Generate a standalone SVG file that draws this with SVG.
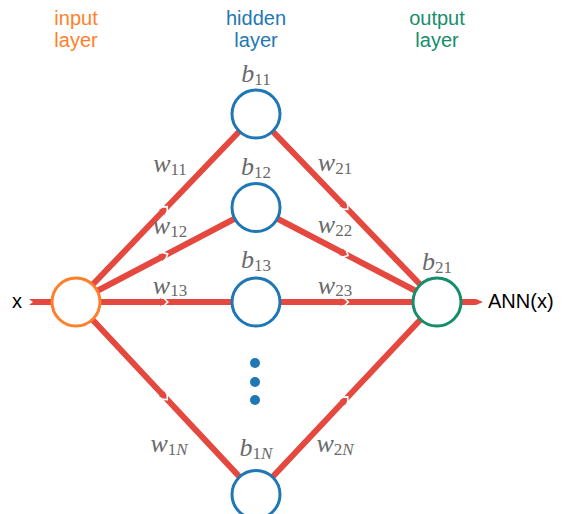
<svg xmlns="http://www.w3.org/2000/svg" width="566" height="514" viewBox="0 0 566 514">
<style>
.lay{font-family:"Liberation Sans",Arial,sans-serif;font-size:20px;text-anchor:middle}
.m{font-family:"Liberation Serif","DejaVu Serif",serif;font-size:26px;fill:#6a6a6a;text-anchor:middle}
.i{font-style:italic}
.s{font-size:17px}
.edge{fill:none;stroke:#e5483f;stroke-width:6;marker-mid:url(#mid)}
.node{fill:#fff;stroke-width:3}
.io{font-family:"Liberation Sans",Arial,sans-serif;font-size:20px;fill:#000}
</style>
<defs>
<marker id="mid" markerWidth="14" markerHeight="14" viewBox="-7 -7 14 14" refX="0" refY="0" orient="auto" markerUnits="userSpaceOnUse" overflow="visible">
<polygon points="-6,-4 0.3,0 -6,4" fill="#e5483f"/>
<polyline points="-4,-5.5 1.8,0 -4,5.5" fill="none" stroke="#fff" stroke-width="1.6"/>
</marker>
</defs>
<g id="layer-labels">
<text class="lay" x="76" y="25" fill="#ff7f2a">input</text>
<text class="lay" x="76" y="47" fill="#ff7f2a">layer</text>
<text class="lay" x="256" y="25" fill="#1f77b4">hidden</text>
<text class="lay" x="256" y="47" fill="#1f77b4">layer</text>
<text class="lay" x="437" y="25" fill="#168d6b">output</text>
<text class="lay" x="437" y="47" fill="#168d6b">layer</text>
</g>
<g id="connectors">
<polygon points="29,299 60,299 60,305 29,305 33,302" fill="#e5483f"/>
<polygon points="440,299 476,299 483,302 476,305 440,305" fill="#e5483f"/>
<path class="edge" d="M76,302 L166,208 L256,114"/>
<path class="edge" d="M76,302 L166,254.75 L256,207.5"/>
<path class="edge" d="M76,302 L166,302 L256,302"/>
<path class="edge" d="M76,302 L166,398.25 L256,494.5"/>
<path class="edge" d="M256,114 L346.5,208 L437,302"/>
<path class="edge" d="M256,207.5 L346.5,254.75 L437,302"/>
<path class="edge" d="M256,302 L346.5,302 L437,302"/>
<path class="edge" d="M256,494.5 L346.5,398.25 L437,302"/>
</g>
<g id="weights">
<text class="m" x="170" y="172"><tspan class="i">w</tspan><tspan class="s" dy="3">11</tspan></text>
<text class="m" x="170" y="234"><tspan class="i">w</tspan><tspan class="s" dy="3">12</tspan></text>
<text class="m" x="170" y="294"><tspan class="i">w</tspan><tspan class="s" dy="2">13</tspan></text>
<text class="m" x="169" y="452"><tspan class="i">w</tspan><tspan class="s" dy="3">1</tspan><tspan class="s i">N</tspan></text>
<text class="m" x="335" y="171"><tspan class="i">w</tspan><tspan class="s" dy="3">21</tspan></text>
<text class="m" x="335" y="233"><tspan class="i">w</tspan><tspan class="s" dy="3">22</tspan></text>
<text class="m" x="335" y="294"><tspan class="i">w</tspan><tspan class="s" dy="2">23</tspan></text>
<text class="m" x="335" y="452"><tspan class="i">w</tspan><tspan class="s" dy="3">2</tspan><tspan class="s i">N</tspan></text>
</g>
<g id="input">
<circle class="node" cx="76" cy="302" r="24" stroke="#ff7f2a"/>
<text class="io" x="17" y="308" text-anchor="middle">x</text>
</g>
<g id="h11">
<circle class="node" cx="256" cy="114" r="24" stroke="#1f77b4"/>
<text class="m" x="256" y="82"><tspan class="i">b</tspan><tspan class="s" dy="3">11</tspan></text>
</g>
<g id="h12">
<circle class="node" cx="256" cy="207.5" r="24" stroke="#1f77b4"/>
<text class="m" x="256" y="175"><tspan class="i">b</tspan><tspan class="s" dy="3">12</tspan></text>
</g>
<g id="h13">
<circle class="node" cx="256" cy="302" r="24" stroke="#1f77b4"/>
<text class="m" x="256" y="268"><tspan class="i">b</tspan><tspan class="s" dy="3">13</tspan></text>
</g>
<g id="h1N">
<circle class="node" cx="256" cy="494.5" r="24" stroke="#1f77b4"/>
<text class="m" x="256" y="456"><tspan class="i">b</tspan><tspan class="s" dy="3">1</tspan><tspan class="s i">N</tspan></text>
</g>
<g id="dots" fill="#1f77b4">
<circle cx="255" cy="363" r="5"/>
<circle cx="255" cy="382" r="5"/>
<circle cx="255" cy="400" r="5"/>
</g>
<g id="output">
<circle class="node" cx="437" cy="302" r="24" stroke="#168d6b"/>
<text class="m" x="437" y="270"><tspan class="i">b</tspan><tspan class="s" dy="3">21</tspan></text>
<text class="io" x="488" y="308">ANN(x)</text>
</g>
</svg>
